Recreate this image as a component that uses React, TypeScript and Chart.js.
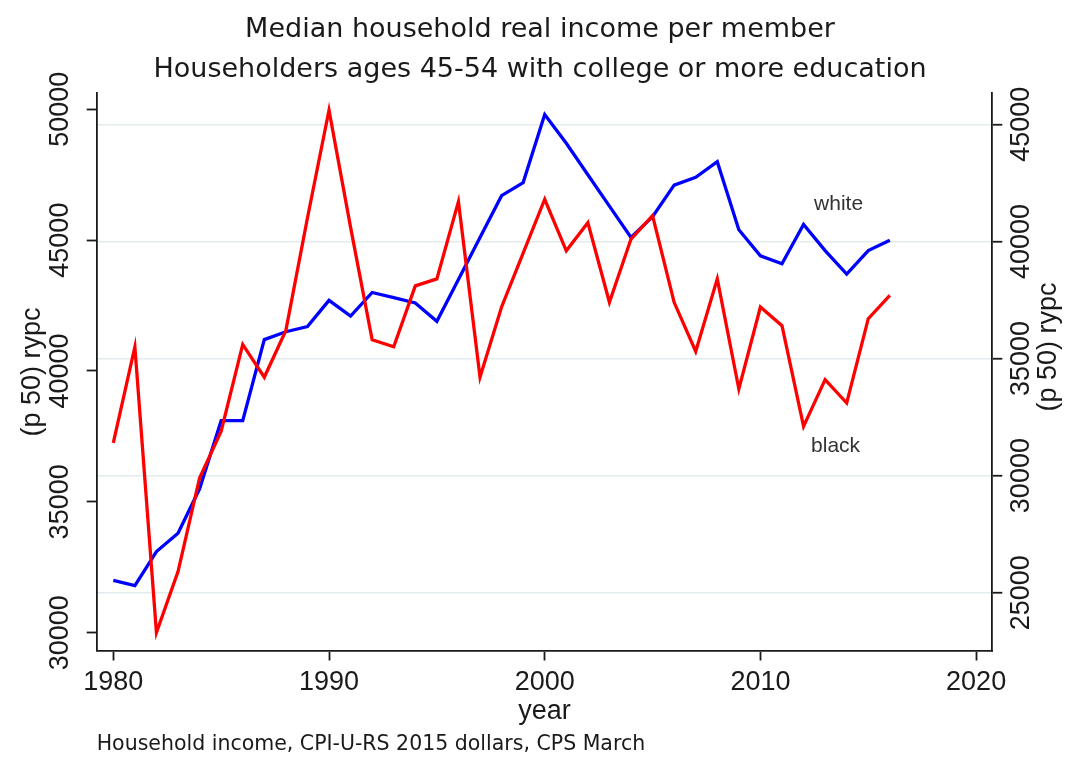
import { useEffect, useRef } from 'react';
import { Chart, registerables } from 'chart.js';

Chart.register(...registerables);

const years = [
  1980, 1981, 1982, 1983, 1984, 1985, 1986, 1987, 1988, 1989,
  1990, 1991, 1992, 1993, 1994, 1995, 1996, 1997, 1998, 1999,
  2000, 2001, 2002, 2003, 2004, 2005, 2006, 2007, 2008, 2009,
  2010, 2011, 2012, 2013, 2014, 2015, 2016,
];

// white householders (left axis)
const whiteIncome = [
  32000, 31800, 33100, 33800, 35500, 38100, 38100, 41200, 41500, 41700,
  42700, 42100, 43000, 42800, 42600, 41900, 43500, 45100, 46700, 47200,
  49800, 48700, 47500, 46300, 45100, 45900, 47100, 47400, 48000, 45400,
  44400, 44100, 45600, 44600, 43700, 44600, 45000,
];

// black householders (right axis)
const blackIncome = [
  31400, 35500, 23300, 25900, 29900, 31900, 35600, 34200, 36200, 41000,
  45600, 40600, 35800, 35500, 38100, 38400, 41700, 34200, 37200, 39500,
  41800, 39600, 40800, 37400, 40100, 41100, 37400, 35300, 38400, 33700,
  37200, 36400, 32100, 34100, 33100, 36700, 37700,
];

const yearTicks = [1980, 1990, 2000, 2010, 2020];
const leftTicks = [30000, 35000, 40000, 45000, 50000];
const rightTicks = [25000, 30000, 35000, 40000, 45000];

const chartTitle = [
  'Median household real income per member',
  'Householders ages 45-54 with college or more education',
];
const yAxisTitle = '(p 50) rypc';
const xAxisTitle = 'year';
const noteText = 'Household income, CPI-U-RS 2015 dollars, CPS March';
const seriesNames = ['white', 'black'];
const labelYear = 2012;

const SANS = '"Liberation Sans", Arial, sans-serif';
const WIDE = '"DejaVu Sans", sans-serif';
const INK = '#1a1a1a';

export default function App() {
  const ref = useRef<HTMLCanvasElement>(null);

  useEffect(() => {
    const canvas = ref.current;
    if (!canvas) return;

    const labelPlugin = {
      id: 'stataLabels',
      afterDatasetsDraw(chart: any) {
        const { ctx, scales, chartArea } = chart;
        const xs = scales.x;
        const yl = scales.y;
        const yr = scales.y2;
        const i = years.indexOf(labelYear);
        ctx.save();
        ctx.font = `21px ${SANS}`;
        ctx.fillStyle = '#333333';
        ctx.textAlign = 'center';
        ctx.textBaseline = 'middle';
        ctx.fillText(seriesNames[0], xs.getPixelForValue(years[i]) + 35, yl.getPixelForValue(whiteIncome[i]) - 20);
        ctx.fillText(seriesNames[1], xs.getPixelForValue(years[i]) + 32, yr.getPixelForValue(blackIncome[i]) + 20);
        ctx.font = `27px ${SANS}`;
        ctx.fillStyle = INK;
        ctx.translate(yr.right - 20, (chartArea.top + chartArea.bottom) / 2 - 25);
        ctx.rotate(-Math.PI / 2);
        ctx.fillText(yAxisTitle, 0, 0);
        ctx.restore();
      },
    };

    const tickFont = { family: SANS, size: 27, lineHeight: 1.2 };
    const gridBase = {
      drawOnChartArea: false,
      drawTicks: true,
      tickLength: 10,
      tickColor: INK,
      tickWidth: 1.8,
    };
    const border = { display: true, color: INK, width: 1.8 };

    const chart = new Chart(canvas, {
      type: 'line',
      data: {
        datasets: [
          {
            label: seriesNames[0],
            data: years.map((yr, i) => ({ x: yr, y: whiteIncome[i] })),
            yAxisID: 'y',
            borderColor: '#0000ff',
            backgroundColor: '#0000ff',
            borderWidth: 3.3,
            pointRadius: 0,
            tension: 0,
            order: 2,
          },
          {
            label: seriesNames[1],
            data: years.map((yr, i) => ({ x: yr, y: blackIncome[i] })),
            yAxisID: 'y2',
            borderColor: '#ff0000',
            backgroundColor: '#ff0000',
            borderWidth: 3.3,
            pointRadius: 0,
            tension: 0,
            order: 1,
          },
        ],
      },
      options: {
        responsive: false,
        maintainAspectRatio: false,
        animation: false,
        devicePixelRatio: 1,
        layout: { padding: { left: 11, right: 0, top: 0, bottom: 0 } },
        plugins: {
          legend: { display: false },
          tooltip: { enabled: false },
          title: {
            display: true,
            text: chartTitle,
            color: INK,
            font: { family: WIDE, size: 27, weight: 'normal', lineHeight: '40px' },
            padding: { top: 10, bottom: 3.3 },
          },
          subtitle: {
            display: true,
            position: 'bottom',
            align: 'start',
            fullSize: false,
            text: noteText,
            color: INK,
            font: { family: WIDE, size: 20.5, weight: 'normal', lineHeight: 1.2 },
            padding: { top: 7.5, bottom: 0.7 },
          },
        },
        scales: {
          x: {
            type: 'linear',
            min: 1979.23,
            max: 2020.75,
            afterBuildTicks: (s: any) => {
              s.ticks = yearTicks.map((v) => ({ value: v }));
            },
            afterFit: (s: any) => {
              s.height = 74.7;
            },
            ticks: {
              font: tickFont,
              color: INK,
              padding: 6.3,
              maxRotation: 0,
              autoSkip: false,
              callback: (v: any) => String(v),
            },
            grid: gridBase,
            border,
            title: {
              display: true,
              text: xAxisTitle,
              color: INK,
              font: { family: SANS, size: 27, lineHeight: 1 },
              padding: { top: 0, bottom: 0 },
            },
          },
          y: {
            type: 'linear',
            position: 'left',
            min: 29320,
            max: 50611,
            afterBuildTicks: (s: any) => {
              s.ticks = leftTicks.map((v) => ({ value: v }));
            },
            afterFit: (s: any) => {
              s.width = 85.7;
            },
            ticks: {
              font: tickFont,
              color: INK,
              padding: -11.8,
              minRotation: 90,
              maxRotation: 90,
              crossAlign: 'center',
              autoSkip: false,
              callback: (v: any) => String(v),
            },
            grid: gridBase,
            border,
            title: {
              display: true,
              text: yAxisTitle,
              color: INK,
              font: { family: SANS, size: 27, lineHeight: 1.2 },
              padding: { top: 5.3, bottom: 0 },
            },
          },
          y2: {
            type: 'linear',
            position: 'right',
            min: 22532,
            max: 46324,
            afterBuildTicks: (s: any) => {
              s.ticks = rightTicks.map((v) => ({ value: v }));
            },
            afterFit: (s: any) => {
              s.width = 76.7;
            },
            ticks: {
              font: tickFont,
              color: INK,
              padding: -17.8,
              minRotation: 90,
              maxRotation: 90,
              crossAlign: 'center',
              autoSkip: false,
              callback: (v: any) => String(v),
            },
            grid: {
              ...gridBase,
              drawOnChartArea: true,
              color: '#e3ebee',
              lineWidth: 1.5,
            },
            border,
          },
        },
      } as any,
      plugins: [labelPlugin],
    });

    return () => chart.destroy();
  }, []);

  return (
    <div style={{ position: 'fixed', left: 0, top: 0, width: 1069, height: 758, background: '#ffffff' }}>
      <canvas ref={ref} width={1069} height={758} style={{ display: 'block', width: 1069, height: 758 }} />
    </div>
  );
}
